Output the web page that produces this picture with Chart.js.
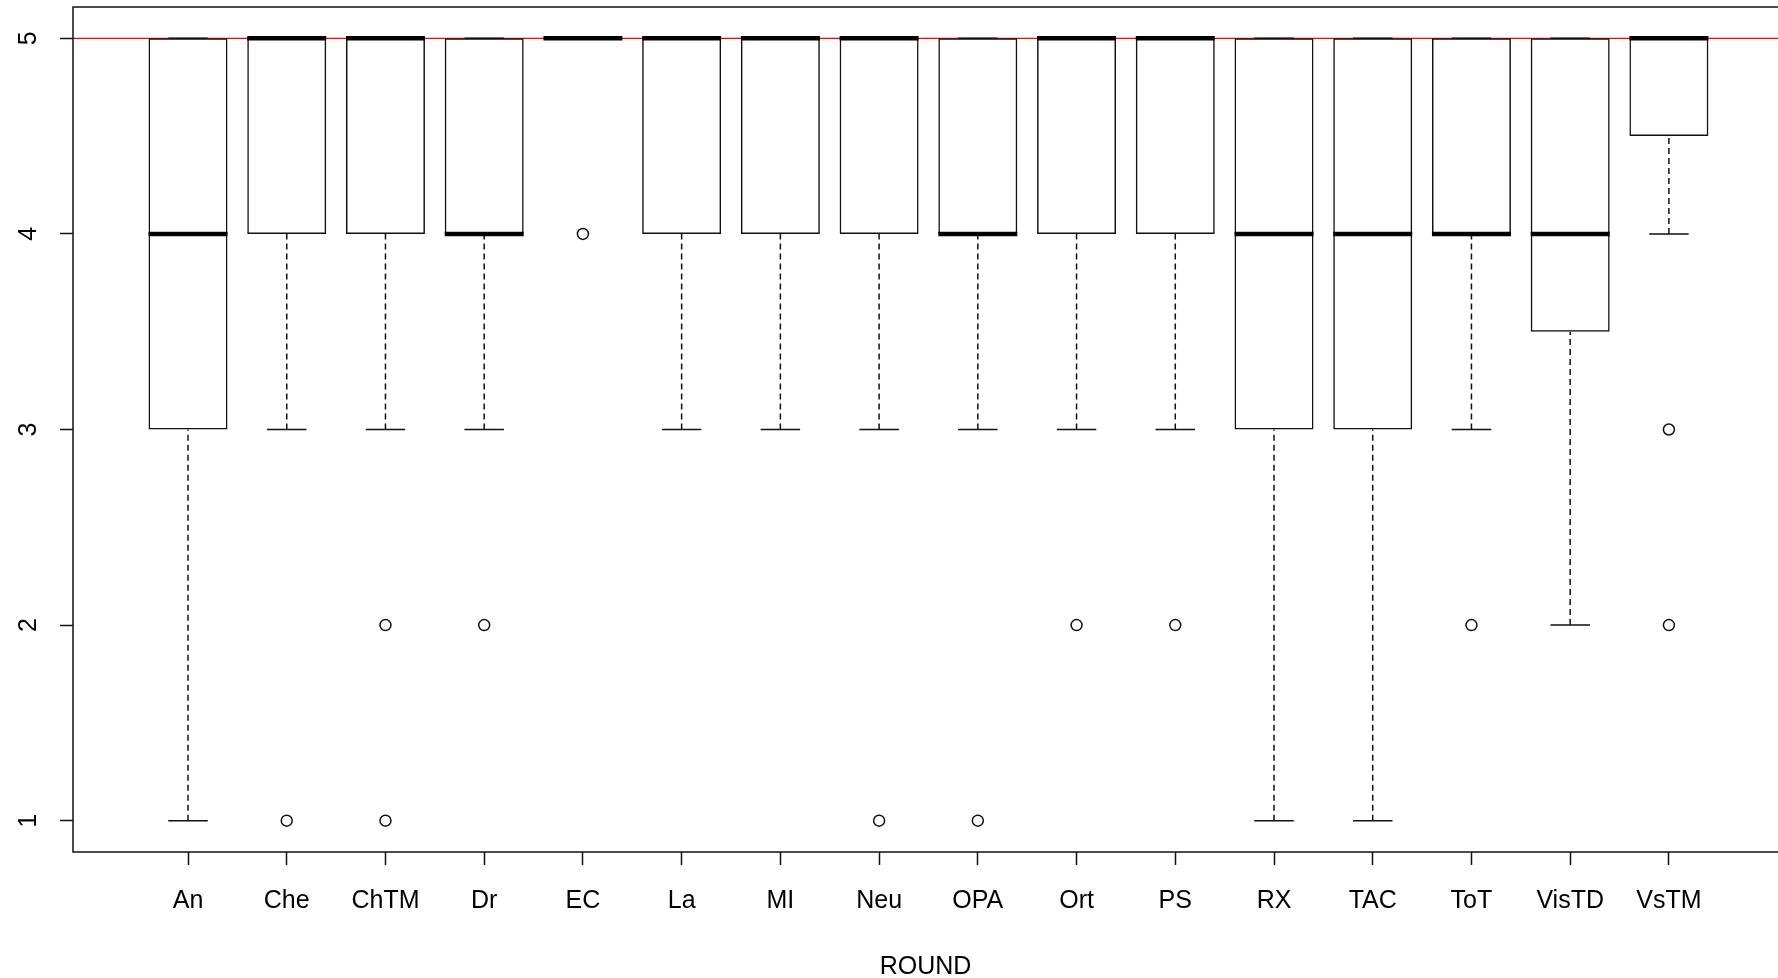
<!DOCTYPE html>
<html lang="en">
<head>
  <meta charset="UTF-8">
  <title>ROUND boxplot</title>
  <style>
    html, body {
      margin: 0;
      padding: 0;
      background: #fff;
      overflow: hidden;
    }
    #wrap {
      width: 1778px;
      height: 978px;
      position: relative;
    }
  </style>
  <script src="https://cdn.jsdelivr.net/npm/chart.js"></script>
</head>
<body>
  <div id="wrap"><canvas id="chart"></canvas></div>

  <script>
    // Categories on the x axis
    const categories = ['An', 'Che', 'ChTM', 'Dr', 'EC', 'La', 'MI', 'Neu', 'OPA', 'Ort', 'PS', 'RX', 'TAC', 'ToT', 'VisTD', 'VsTM'];

    // Five-number summaries
    const whiskerLow  = [1, 3, 3, 3, 5, 3, 3, 3, 3, 3, 3, 1, 1, 3, 2, 4];
    const lowerQ      = [3, 4, 4, 4, 5, 4, 4, 4, 4, 4, 4, 3, 3, 4, 3.5, 4.5];
    const medians     = [4, 5, 5, 4, 5, 5, 5, 5, 4, 5, 5, 4, 4, 4, 4, 5];
    const upperQ      = [5, 5, 5, 5, 5, 5, 5, 5, 5, 5, 5, 5, 5, 5, 5, 5];
    const whiskerHigh = [5, 5, 5, 5, 5, 5, 5, 5, 5, 5, 5, 5, 5, 5, 5, 5];

    // Outlying points per category
    const outliers = [[], [1], [2, 1], [2], [4], [], [], [1], [1], [2], [2], [], [], [2], [], [3, 2]];

    // Reference line (abline h = 5)
    const refLine = 5;

    // Axis ticks and ranges
    const yTicks = [1, 2, 3, 4, 5];
    const xMin = -0.165, xMax = 17.105;
    const yMin = 0.84, yMax = 5.16;

    const FONT = "'Liberation Sans', Arial, sans-serif";
    const INK = '#111';

    // Build datasets from the arrays above
    const boxData = categories.map((c, i) => ({ x: i + 1, y: [lowerQ[i], upperQ[i]] }));

    const whiskerData = [];
    const stapleData = [];
    const medianData = [];
    categories.forEach((c, i) => {
      const x = i + 1;
      whiskerData.push({ x: x, y: whiskerLow[i] }, { x: x, y: lowerQ[i] }, { x: x, y: null });
      whiskerData.push({ x: x, y: upperQ[i] }, { x: x, y: whiskerHigh[i] }, { x: x, y: null });
      stapleData.push({ x: x - 0.2, y: whiskerLow[i] }, { x: x + 0.2, y: whiskerLow[i] }, { x: x, y: null });
      stapleData.push({ x: x - 0.2, y: whiskerHigh[i] }, { x: x + 0.2, y: whiskerHigh[i] }, { x: x, y: null });
      medianData.push({ x: x - 0.4, y: medians[i] }, { x: x + 0.4, y: medians[i] }, { x: x, y: null });
    });

    const outlierData = [];
    outliers.forEach((vals, i) => {
      vals.forEach(v => outlierData.push({ x: i + 1, y: v }));
    });

    // Rotated y labels (R style, parallel to the axis) and the plot box
    const rStyle = {
      id: 'rStyle',
      afterDraw(chart) {
        const ctx = chart.ctx;
        const area = chart.chartArea;
        const y = chart.scales.y;
        ctx.save();
        ctx.strokeStyle = INK;
        ctx.lineWidth = 1.5;
        ctx.strokeRect(area.left, area.top, area.right - area.left + 30, area.bottom - area.top);

        ctx.fillStyle = '#000';
        ctx.font = '25px ' + FONT;
        ctx.textAlign = 'center';
        ctx.textBaseline = 'alphabetic';
        yTicks.forEach(v => {
          ctx.save();
          ctx.translate(area.left - 37, y.getPixelForValue(v));
          ctx.rotate(-Math.PI / 2);
          ctx.fillText(String(v), 0, 0);
          ctx.restore();
        });
        ctx.restore();
      }
    };

    new Chart(document.getElementById('chart').getContext('2d'), {
      type: 'scatter',
      data: {
        datasets: [
          {
            type: 'scatter',
            label: 'outliers',
            data: outlierData,
            pointStyle: 'circle',
            pointRadius: 5.5,
            pointBorderWidth: 1.5,
            pointBorderColor: INK,
            pointBackgroundColor: 'rgba(255,255,255,0)',
            order: 0
          },
          {
            type: 'line',
            label: 'median',
            data: medianData,
            borderColor: '#000',
            borderWidth: 4.5,
            borderCapStyle: 'butt',
            pointRadius: 0,
            spanGaps: false,
            order: 1
          },
          {
            type: 'line',
            label: 'staples',
            data: stapleData,
            borderColor: INK,
            borderWidth: 1.5,
            pointRadius: 0,
            spanGaps: false,
            order: 2
          },
          {
            type: 'line',
            label: 'whiskers',
            data: whiskerData,
            borderColor: INK,
            borderWidth: 1.5,
            borderDash: [6, 4],
            pointRadius: 0,
            spanGaps: false,
            order: 3
          },
          {
            type: 'bar',
            label: 'boxes',
            data: boxData,
            backgroundColor: 'rgba(255,255,255,0)',
            borderColor: INK,
            borderWidth: 1.5,
            borderSkipped: false,
            categoryPercentage: 1,
            barPercentage: 0.8,
            order: 4
          },
          {
            type: 'line',
            label: 'ref',
            data: [{ x: xMin, y: refLine }, { x: xMax, y: refLine }],
            borderColor: '#ff0000',
            borderWidth: 1.2,
            pointRadius: 0,
            order: 5
          }
        ]
      },
      options: {
        responsive: true,
        maintainAspectRatio: false,
        animation: false,
        layout: {
          autoPadding: false,
          padding: { left: 60, top: 7, right: 0, bottom: 0 }
        },
        plugins: {
          legend: { display: false },
          tooltip: { enabled: false }
        },
        scales: {
          x: {
            type: 'linear',
            min: xMin,
            max: xMax,
            offset: false,
            afterBuildTicks: scale => {
              scale.ticks = categories.map((c, i) => ({ value: i + 1 }));
            },
            ticks: {
              autoSkip: false,
              maxRotation: 0,
              minRotation: 0,
              padding: 21,
              color: '#000',
              font: { family: FONT, size: 25 },
              callback: value => categories[Math.round(value) - 1] || ''
            },
            grid: {
              offset: false,
              drawOnChartArea: false,
              drawTicks: true,
              tickLength: 13,
              tickWidth: 1.5,
              tickColor: INK
            },
            border: { display: false },
            title: {
              display: true,
              text: 'ROUND',
              color: '#000',
              font: { family: FONT, size: 25 },
              padding: { top: 15, bottom: -4 }
            }
          },
          y: {
            type: 'linear',
            min: yMin,
            max: yMax,
            afterBuildTicks: scale => {
              scale.ticks = yTicks.map(v => ({ value: v }));
            },
            ticks: { display: false },
            grid: {
              drawOnChartArea: false,
              drawTicks: true,
              tickLength: 13,
              tickWidth: 1.5,
              tickColor: INK
            },
            border: { display: false }
          }
        }
      },
      plugins: [rStyle]
    });
  </script>
</body>
</html>
